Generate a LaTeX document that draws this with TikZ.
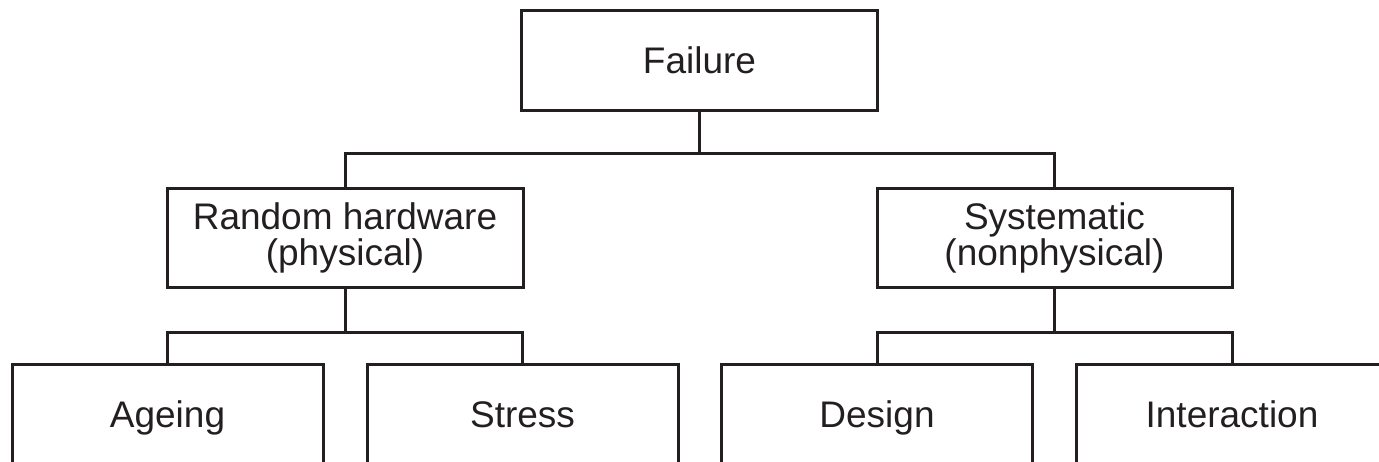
\documentclass[tikz,border=0pt]{standalone}
\usepackage{fontspec}
\setmainfont{Liberation Sans}
\usepackage{tikz}
\usetikzlibrary{positioning}
\definecolor{ink}{HTML}{231F20}
\tikzstyle{box}=[rectangle,draw=ink,line width=1.5pt,align=center,text=ink,inner sep=0pt,font=\fontsize{18.5}{18}\selectfont]
\tikzstyle{leaf}=[box,minimum width=155.5pt,minimum height=50pt,text height=16pt,text depth=3pt]
\tikzstyle{link}=[draw=ink,line width=1.5pt]

\begin{document}
\begin{tikzpicture}[x=0.5pt,y=-0.5pt]
		\clip (0,0) rectangle (1379,461);

		% nodes
		\node[box,minimum width=178pt,minimum height=50pt] (fail) at (699.5,60.5) {Failure};
		\node[box,minimum width=178pt,minimum height=49.5pt] (rand) at (345,237.5) {Random hardware\\(physical)};
		\node[box,minimum width=177.5pt,minimum height=49.5pt] (sys) at (1054.5,237.5) {Systematic\\(nonphysical)};
		\node[leaf] (age) at (167.5,414) {Ageing};
		\node[leaf] (stress) at (522.5,414) {Stress};
		\node[leaf] (design) at (877,414) {Design};
		\node[leaf] (inter) at (1232,414) {Interaction};

		% splits
		\coordinate (split) at (699.5,153);
		\coordinate (randsplit) at (345,332);
		\coordinate (syssplit) at (1054.5,332);

		% links
		\draw[link] (fail.south) -- (split);
		\draw[link] (rand.north) |- (split) -| (sys.north);
		\draw[link] (rand.south) -- (randsplit);
		\draw[link] (age.north) |- (randsplit) -| (stress.north);
		\draw[link] (sys.south) -- (syssplit);
		\draw[link] (design.north) |- (syssplit) -| (inter.north);
	\end{tikzpicture}
\end{document}
